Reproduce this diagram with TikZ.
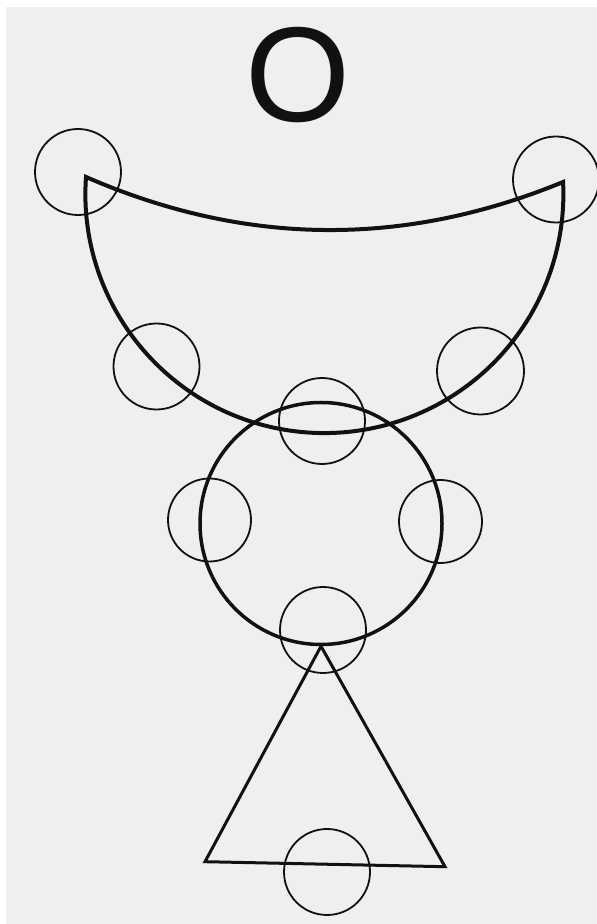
\documentclass[tikz,border=0pt]{standalone}
\usepackage{fontspec}
\setmainfont{Liberation Sans}
\definecolor{bg}{HTML}{EFEFEF}
\definecolor{ink}{HTML}{111111}
\tikzset{
  ring/.style={circle,draw=ink,line width=1.8pt,inner sep=0pt,minimum size=#1},
  ring/.default=86pt,
  bigring/.style={circle,draw=ink,line width=3.5pt,inner sep=0pt,minimum size=242pt},
  bowl/.style={draw=ink,line width=4pt,line join=miter},
  tri/.style={draw=ink,line width=3pt,line join=miter},
  letter/.style={font=\fontsize{135}{140}\selectfont,text=ink,inner sep=0pt}
}
\begin{document}
\begin{tikzpicture}[x=1pt,y=1pt]
\useasboundingbox (0,0) rectangle (597,924);
\fill[white] (0,0) rectangle (597,924);
\fill[bg] (6,0) rectangle (597,917);
% letter
\node[letter] (lbl) at (298.5,849) {O};
% bowl
\coordinate (bl) at (86,747);
\coordinate (br) at (562,742);
\draw[bowl] (bl) arc[start angle=175.9,end angle=362.9,radius=239]
  .. controls (403.3,676.3) and (244.7,678) .. (bl) -- cycle;
% big circle
\node[bigring] (big) at (321,400.5) {};
% triangle
\coordinate (tl) at (205,62.3);
\coordinate (tr) at (445,57.3);
\draw[tri] (big.south) -- (tr) -- (tl) -- cycle;
% small circles
\node[ring] (c1) at (78,752) {};
\node[ring] (c2) at (556,744.5) {};
\node[ring] (c3) at (156.5,557.5) {};
\node[ring=87pt] (c4) at (480.5,553) {};
\node[ring] (c5) at (322,503) {};
\node[ring=83pt] (c6) at (209.5,404) {};
\node[ring=83pt] (c7) at (440.5,402.5) {};
\node[ring] (c8) at (323,294) {};
\node[ring] (c9) at (327,52) {};
\end{tikzpicture}
\end{document}
